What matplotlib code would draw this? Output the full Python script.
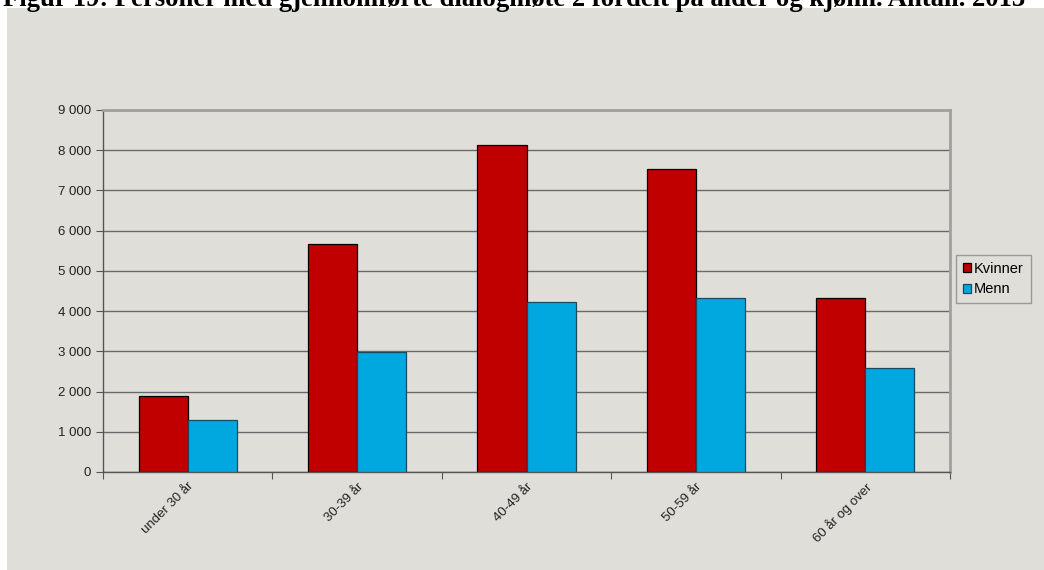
import matplotlib.pyplot as plt
import numpy as np
from matplotlib.patches import Rectangle
from matplotlib.ticker import FuncFormatter

# Personer med gjennomførte dialogmøte 2, 2013
age_groups = ['under 30 år', '30-39 år', '40-49 år', '50-59 år', '60 år og over']
kvinner = [1890, 5670, 8130, 7535, 4325]
menn = [1300, 2980, 4235, 4325, 2595]

title = 'Figur 19: Personer med gjennomførte dialogmøte 2 fordelt på alder og kjønn. Antall. 2013'

bg = '#dfded9'
red = '#c00000'
blue = '#00a8df'

plt.rcParams['font.family'] = ['Liberation Sans', 'DejaVu Sans']

fig = plt.figure(figsize=(10.44, 5.70), dpi=100)
fig.patch.set_facecolor('white')

# grey panel behind the chart
fig.patches.append(Rectangle((7 / 1044, 0), 1, 1 - 8 / 570, transform=fig.transFigure,
                             facecolor=bg, edgecolor='none', zorder=-10))

fig.text(0.492, 1 - 6 / 570, title, ha='center', va='baseline',
         fontsize=19.2, fontweight='bold', family='Liberation Serif')

ax = fig.add_axes([103 / 1044, 98 / 570, 847 / 1044, 362 / 570])
ax.set_facecolor(bg)

x = np.arange(len(age_groups))
w = 0.29
ax.bar(x - w / 2, kvinner, w, color=red, edgecolor='black', linewidth=0.9,
       label='Kvinner', zorder=3)
ax.bar(x + w / 2, menn, w, color=blue, edgecolor='#1a4a60', linewidth=0.9,
       label='Menn', zorder=3)

ax.set_xlim(-0.5, len(age_groups) - 0.5)
ax.set_ylim(0, 9000)
ax.set_yticks(np.arange(0, 9001, 1000))
ax.yaxis.set_major_formatter(FuncFormatter(lambda v, _: f'{int(v):,}'.replace(',', ' ')))
ax.grid(axis='y', color='#6a6a6a', linewidth=1.0, zorder=1)

# ticks between the categories, labels at category centres
ax.set_xticks(np.arange(-0.5, len(age_groups)), minor=False)
ax.set_xticklabels([])
ax.set_xticks(x, minor=True)
ax.set_xticklabels(age_groups, minor=True, rotation=45, ha='right',
                   rotation_mode='anchor', fontsize=9.5, color='#222222')
ax.tick_params(axis='x', which='minor', length=0, pad=6)
ax.tick_params(axis='x', which='major', length=5, color='#555555', direction='out')
ax.tick_params(axis='y', length=5, color='#555555', labelsize=9.5, labelcolor='#222222')

for side in ['left', 'bottom']:
    ax.spines[side].set_color('#555555')
    ax.spines[side].set_linewidth(1.0)
for side in ['top', 'right']:
    ax.spines[side].set_color('#a0a0a0')
    ax.spines[side].set_linewidth(2.0)

leg = ax.legend(loc='center left', bbox_to_anchor=(956 / 1044, 1 - 279 / 570),
                bbox_transform=fig.transFigure, fontsize=10.5, frameon=True,
                fancybox=False, handlelength=0.55, handleheight=0.55,
                handletextpad=0.25, borderpad=0.45, labelspacing=0.45,
                borderaxespad=0)
leg.get_frame().set_edgecolor('#888888')
leg.get_frame().set_facecolor(bg)
leg.get_frame().set_linewidth(1.0)

fig.savefig('out.png', dpi=100, facecolor=fig.get_facecolor())
